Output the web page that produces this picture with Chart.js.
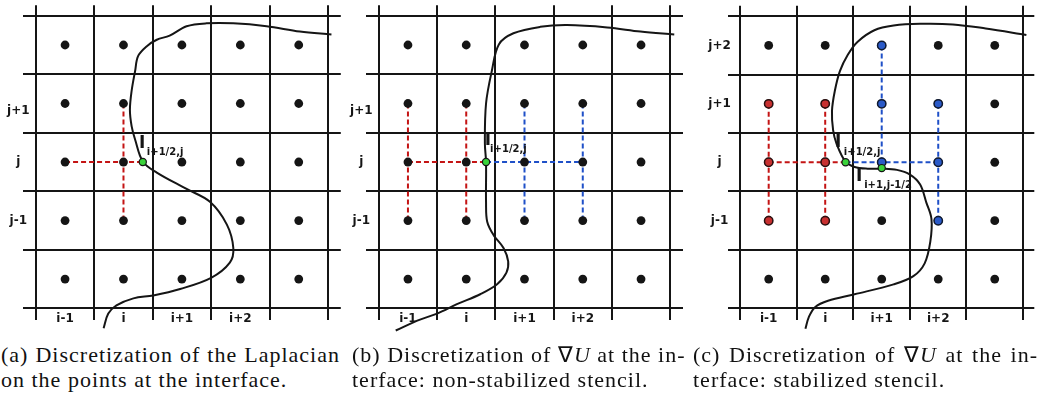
<!DOCTYPE html>
<html>
<head>
<meta charset="utf-8">
<title>Interface stencils</title>
<script src="https://cdn.jsdelivr.net/npm/chart.js@4.4.0/dist/chart.umd.min.js"></script>
<style>
    html, body { margin: 0; padding: 0; background: #fff; }
    #figure { position: relative; width: 1040px; height: 396px; overflow: hidden; background: #fff; }
    .panel { position: absolute; top: 0; height: 340px; }
    .caption {
        position: absolute;
        top: 342px;
        font-family: 'Liberation Serif', 'Times New Roman', serif;
        font-size: 22px;
        line-height: 25px;
        letter-spacing: 1px;
        color: #111;
    }
    .caption div { white-space: nowrap; }
    .caption .first { text-align: justify; text-align-last: justify; }
</style>
</head>
<body>
<div id="figure">
    <div class="panel" style="left:0;width:346px"><canvas id="chartA"></canvas></div>
    <div class="panel" style="left:340px;width:350px"><canvas id="chartB"></canvas></div>
    <div class="panel" style="left:690px;width:350px"><canvas id="chartC"></canvas></div>

    <div class="caption" style="left:1px;width:339px">
        <div class="first">(a) Discretization of the Laplacian</div>
        <div>on the points at the interface.</div>
    </div>
    <div class="caption" style="left:352px;width:328px">
        <div class="first">(b) Discretization of ∇<i>U</i> at the in-</div>
        <div>terface: non-stabilized stencil.</div>
    </div>
    <div class="caption" style="left:693px;width:345px">
        <div class="first">(c) Discretization of ∇<i>U</i> at the in-</div>
        <div>terface: stabilized stencil.</div>
    </div>
</div>

<script>
// ---- data (grid units: one cell = 1, rows counted downwards) ----
const gridLines = [0, 1, 2, 3, 4, 5];
const cellCentres = [0.5, 1.5, 2.5, 3.5, 4.5];

const colLabels = ['i-1', 'i', 'i+1', 'i+2', ''];
const rowLabelsAB = ['', 'j+1', 'j', 'j-1', ''];
const rowLabelsC = ['j+2', 'j+1', 'j', 'j-1', ''];

// interface curves, traced from top right to bottom
const curveA = [
    [5.06, 0.32], [4.52, 0.27], [3.95, 0.18], [3.38, 0.13], [2.92, 0.13], [2.58, 0.18],
    [2.29, 0.34], [2.07, 0.41], [1.90, 0.52], [1.75, 0.69], [1.70, 0.94], [1.64, 1.28],
    [1.61, 1.61], [1.64, 1.89], [1.70, 2.12], [1.83, 2.49], [2.07, 2.68], [2.58, 2.96],
    [2.98, 3.18], [3.27, 3.57], [3.38, 3.97], [3.32, 4.22], [3.00, 4.48], [2.47, 4.67],
    [2.01, 4.78], [1.67, 4.83], [1.38, 4.95], [1.24, 5.09], [1.16, 5.34]
];
const curveB = [
    [5.07, 0.32], [4.49, 0.27], [3.92, 0.20], [3.23, 0.16], [2.77, 0.19], [2.31, 0.30],
    [2.06, 0.49], [1.94, 0.94], [1.84, 1.50], [1.82, 2.18], [1.84, 2.50], [1.84, 3.19],
    [1.86, 3.52], [1.97, 3.75], [2.14, 3.97], [2.22, 4.20], [2.19, 4.39], [2.03, 4.59],
    [1.74, 4.76], [1.34, 4.93], [1.00, 5.09], [0.66, 5.21], [0.29, 5.38]
];
const curveC = [
    [5.06, 0.32], [4.34, 0.21], [3.76, 0.14], [3.18, 0.13], [2.71, 0.16], [2.37, 0.24],
    [2.07, 0.44], [1.90, 0.66], [1.76, 0.94], [1.67, 1.28], [1.62, 1.62], [1.64, 1.95],
    [1.70, 2.18], [1.86, 2.49], [2.02, 2.58], [2.25, 2.61], [2.50, 2.61], [2.77, 2.63],
    [3.00, 2.71], [3.18, 2.88], [3.29, 3.19], [3.38, 3.47], [3.36, 3.86], [3.26, 4.23],
    [3.06, 4.45], [2.71, 4.59], [2.02, 4.76], [1.55, 4.87], [1.32, 4.98], [1.21, 5.15],
    [1.15, 5.35]
];

// stencil segments, each [start, end]
const redStencilA = [[[1.5, 1.5], [1.5, 3.5]], [[0.5, 2.5], [1.83, 2.5]]];
const redStencilB = [[[0.5, 1.5], [0.5, 3.5]], [[1.5, 1.5], [1.5, 3.5]], [[0.5, 2.5], [1.84, 2.5]]];
const blueStencilB = [[[1.84, 2.5], [3.5, 2.5]], [[2.5, 1.5], [2.5, 3.5]], [[3.5, 1.5], [3.5, 3.5]]];
const redStencilC = [[[0.5, 1.5], [0.5, 3.5]], [[1.5, 1.5], [1.5, 3.5]], [[0.5, 2.5], [1.86, 2.5]]];
const blueStencilC = [[[1.86, 2.5], [3.5, 2.5]], [[2.5, 0.5], [2.5, 2.5]], [[3.5, 1.5], [3.5, 3.5]]];

// coloured unknowns in the stabilized stencil
const redDotsC = [[0.5, 1.5], [1.5, 1.5], [0.5, 2.5], [1.5, 2.5], [0.5, 3.5], [1.5, 3.5]];
const blueDotsC = [[2.5, 0.5], [2.5, 1.5], [3.5, 1.5], [2.5, 2.5], [3.5, 2.5], [3.5, 3.5]];

// interface points and their subscripts
const interfaceA = [[1.83, 2.5]];
const interfaceB = [[1.84, 2.5]];
const interfaceC = [[1.86, 2.5], [2.5, 2.6]];
const subsA = ['i+1/2,j'];
const subsB = ['i+1/2,j'];
const subsC = ['i+1/2,j', 'i+1,j-1/2'];

(function() {
    'use strict';

    const BLACK = '#151515';
    const RED = '#c41414';
    const BLUE = '#1f50c8';
    const GREEN = '#3ad33a';
    const LABEL_FONT = '"DejaVu Sans", sans-serif';

    const toXY = p => ({ x: p[0], y: p[1] });

    /**
     * Every cell centre as a point
     */
    function allCentres() {
        const pts = [];
        cellCentres.forEach(y => cellCentres.forEach(x => pts.push({ x: x, y: y })));
        return pts;
    }

    function segmentSets(segments, color) {
        return segments.map(seg => ({
            data: seg.map(toXY),
            showLine: true,
            borderColor: color,
            borderWidth: 2,
            borderDash: [5, 3],
            pointRadius: 0,
            order: 3
        }));
    }

    /**
     * Text labels: row / column indices and the interface points
     */
    function labelPlugin(cfg) {
        return {
            id: 'stencilLabels',
            afterDatasetsDraw(chart) {
                const { ctx, scales: { x, y } } = chart;
                ctx.save();
                ctx.fillStyle = BLACK;
                ctx.textAlign = 'center';
                ctx.textBaseline = 'middle';
                ctx.font = 'bold 12px ' + LABEL_FONT;
                cfg.rowLabels.forEach((t, k) => {
                    if (t) ctx.fillText(t, x.getPixelForValue(cfg.rowLabelX), y.getPixelForValue(cfg.rowLabelY[k]));
                });
                colLabels.forEach((t, k) => {
                    if (t) ctx.fillText(t, x.getPixelForValue(cellCentres[k]), y.getPixelForValue(5.18));
                });
                cfg.marks.forEach((m, k) => {
                    ctx.textAlign = 'center';
                    ctx.font = 'bold 17px ' + LABEL_FONT;
                    ctx.fillText('I', x.getPixelForValue(m.ix), y.getPixelForValue(m.iy));
                    ctx.textAlign = 'left';
                    ctx.font = 'bold 10px ' + LABEL_FONT;
                    ctx.fillText(cfg.subs[k], x.getPixelForValue(m.sx), y.getPixelForValue(m.sy));
                });
                ctx.restore();
            }
        };
    }

    function buildDiagram(canvasId, layout, parts) {
        const datasets = [];

        // interface points on top
        datasets.push({
            data: parts.interface.map(toXY),
            pointRadius: 3.6,
            pointBackgroundColor: GREEN,
            pointBorderColor: BLACK,
            pointBorderWidth: 1.2,
            order: 0
        });
        if (parts.redDots) {
            datasets.push({
                data: parts.redDots.map(toXY),
                pointRadius: 4.2,
                pointBackgroundColor: '#c83030',
                pointBorderColor: '#2a1010',
                pointBorderWidth: 1.5,
                order: 1
            });
            datasets.push({
                data: parts.blueDots.map(toXY),
                pointRadius: 4.2,
                pointBackgroundColor: '#2a5ac8',
                pointBorderColor: '#101a30',
                pointBorderWidth: 1.5,
                order: 1
            });
        }
        datasets.push({
            data: allCentres(),
            pointRadius: 4.4,
            pointBackgroundColor: BLACK,
            pointBorderWidth: 0,
            order: 2
        });
        datasets.push(...segmentSets(parts.red, RED));
        datasets.push(...segmentSets(parts.blue || [], BLUE));
        datasets.push({
            data: parts.curve.map(toXY),
            showLine: true,
            tension: 0.35,
            borderColor: BLACK,
            borderWidth: 2,
            pointRadius: 0,
            order: 4
        });
        datasets.forEach(d => { d.clip = false; });

        const gridAxis = (min, max, reverse) => ({
            type: 'linear',
            min: min,
            max: max,
            reverse: reverse,
            ticks: { display: false },
            grid: { color: BLACK, lineWidth: 2, drawTicks: false },
            border: { display: false },
            afterBuildTicks: axis => { axis.ticks = gridLines.map(v => ({ value: v })); }
        });

        new Chart(document.getElementById(canvasId), {
            type: 'scatter',
            data: { datasets: datasets },
            options: {
                responsive: true,
                maintainAspectRatio: false,
                devicePixelRatio: 1,
                animation: false,
                events: [],
                layout: { padding: layout.padding },
                plugins: { legend: { display: false }, tooltip: { enabled: false } },
                scales: {
                    x: gridAxis(-0.22, layout.xMax, false),
                    y: gridAxis(-0.18, 5.2, true)
                }
            },
            plugins: [labelPlugin(parts.labels)]
        });
    }

    function initCharts() {
        if (typeof Chart === 'undefined') {
            console.error('Chart.js is not loaded');
            return;
        }

        buildDiagram('chartA', { padding: { left: 23, right: 5, top: 0, bottom: 20 }, xMax: 5.22 }, {
            curve: curveA,
            red: redStencilA,
            interface: interfaceA,
            labels: {
                rowLabels: rowLabelsAB, rowLabelX: -0.3, rowLabelY: [0.5, 1.62, 2.5, 3.5, 4.5],
                subs: subsA,
                marks: [{ ix: 1.82, iy: 2.19, sx: 1.90, sy: 2.34 }]
            }
        });

        buildDiagram('chartB', { padding: { left: 26, right: 7, top: 0, bottom: 20 }, xMax: 5.22 }, {
            curve: curveB,
            red: redStencilB,
            blue: blueStencilB,
            interface: interfaceB,
            labels: {
                rowLabels: rowLabelsAB, rowLabelX: -0.3, rowLabelY: [0.5, 1.62, 2.5, 3.5, 4.5],
                subs: subsB,
                marks: [{ ix: 1.87, iy: 2.14, sx: 1.91, sy: 2.28 }]
            }
        });

        buildDiagram('chartC', { padding: { left: 38, right: 0, top: 0, bottom: 20 }, xMax: 5.2 }, {
            curve: curveC,
            red: redStencilC,
            blue: blueStencilC,
            redDots: redDotsC,
            blueDots: blueDotsC,
            interface: interfaceC,
            labels: {
                rowLabels: rowLabelsC, rowLabelX: -0.37, rowLabelY: [0.5, 1.5, 2.5, 3.5, 4.5],
                subs: subsC,
                marks: [
                    { ix: 1.73, iy: 2.16, sx: 1.83, sy: 2.33 },
                    { ix: 2.10, iy: 2.74, sx: 2.19, sy: 2.89 }
                ]
            }
        });
    }

    if (document.readyState === 'loading') {
        document.addEventListener('DOMContentLoaded', initCharts);
    } else {
        initCharts();
    }
})();
</script>
</body>
</html>
